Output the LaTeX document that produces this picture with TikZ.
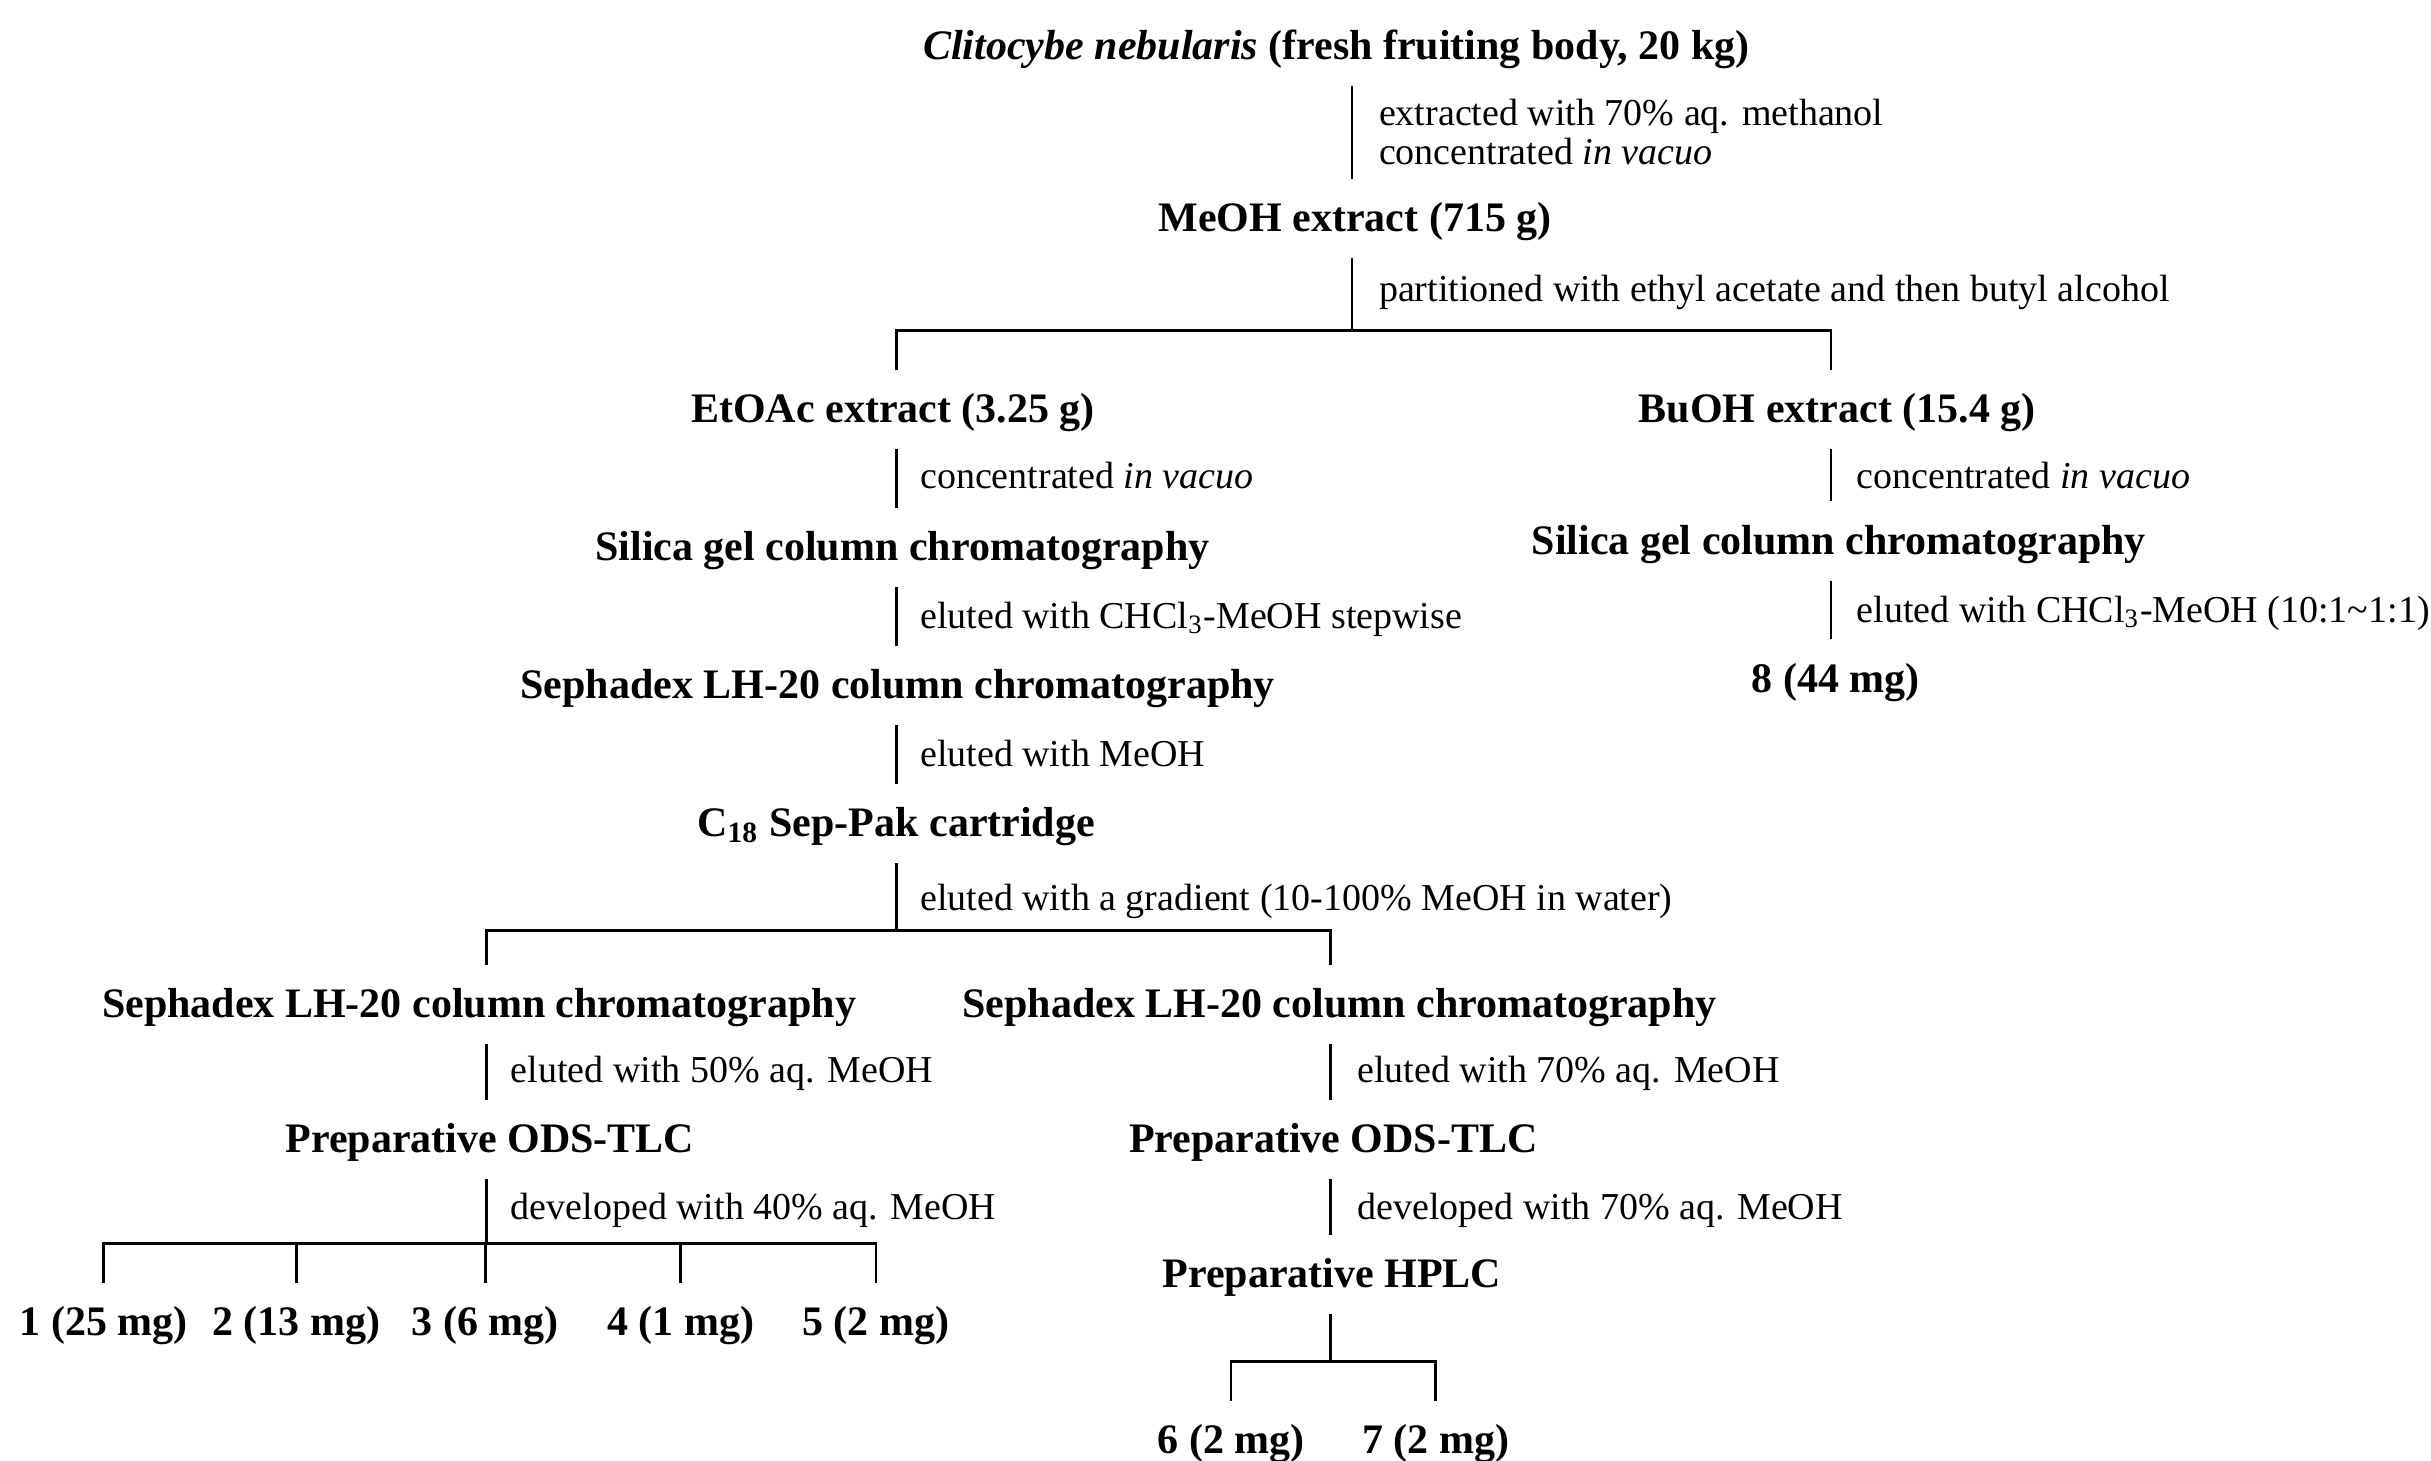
\documentclass[tikz,border=0pt]{standalone}
\usepackage{fontspec}
\setmainfont{Liberation Serif}
\begin{document}
\begin{tikzpicture}[x=0.3876pt,y=-0.3876pt,
  ln/.style={line width=0.7pt},
  bnode/.style={font=\fontsize{10.5}{12}\selectfont\bfseries, inner sep=0pt, minimum height=19.4pt, text height=0.85em, text depth=0.2em},
  note/.style={font=\fontsize{9.5}{9.7}\selectfont, inner sep=0pt, anchor=west, text height=0.85em, text depth=0.2em},
  note2/.style={font=\fontsize{9.5}{9.7}\selectfont, inner sep=0pt, anchor=west, align=left},
]
\useasboundingbox (0,0) rectangle (1568,942);

% main nodes
\node[bnode] (title) at (862,30) {\textit{Clitocybe nebularis} (fresh fruiting body, 20 kg)};
\node[bnode] (meoh) at (874,141) {MeOH extract (715 g)};
\node[bnode] (etoac) at (576,264) {EtOAc extract (3.25 g)};
\node[bnode] (buoh) at (1185,264) {BuOH extract (15.4 g)};
\node[bnode] (silL) at (582,353) {Silica gel column chromatography};
\node[bnode] (silR) at (1186,349) {Silica gel column chromatography};
\node[bnode] (sephA) at (579,442) {Sephadex LH-20 column chromatography};
\node[bnode] (c8) at (1184,438) {8 (44 mg)};
\node[bnode] (c18) at (578,531) {C\textsubscript{18} Sep-Pak cartridge};
\node[bnode] (sephL) at (309,648) {Sephadex LH-20 column chromatography};
\node[bnode] (sephR) at (864,648) {Sephadex LH-20 column chromatography};
\node[bnode] (odsL) at (316,735) {Preparative ODS-TLC};
\node[bnode] (odsR) at (860,735) {Preparative ODS-TLC};
\node[bnode] (hplc) at (859,822) {Preparative HPLC};
\node[bnode] (c1) at (67,853) {1 (25 mg)};
\node[bnode] (c2) at (191,853) {2 (13 mg)};
\node[bnode] (c3) at (313,853) {3 (6 mg)};
\node[bnode] (c4) at (439,853) {4 (1 mg)};
\node[bnode] (c5) at (565,853) {5 (2 mg)};
\node[bnode] (c6) at (794,929) {6 (2 mg)};
\node[bnode] (c7) at (926,929) {7 (2 mg)};

% notes
\node[note2] (n1) at (889,85) {extracted with 70\% aq. methanol\\concentrated \textit{in vacuo}};
\node[note] (n2) at (889,186) {partitioned with ethyl acetate and then butyl alcohol};
\node[note] (n3) at (593,307) {concentrated \textit{in vacuo}};
\node[note] (n4) at (1197,307) {concentrated \textit{in vacuo}};
\node[note] (n5) at (593,397) {eluted with CHCl\textsubscript{3}-MeOH stepwise};
\node[note] (n6) at (1197,393) {eluted with CHCl\textsubscript{3}-MeOH (10:1\textasciitilde1:1)};
\node[note] (n7) at (593,486) {eluted with MeOH};
\node[note] (n8) at (593,579) {eluted with a gradient (10-100\% MeOH in water)};
\node[note] (n9) at (329,690) {eluted with 50\% aq. MeOH};
\node[note] (n10) at (875,690) {eluted with 70\% aq. MeOH};
\node[note] (n11) at (329,778) {developed with 40\% aq. MeOH};
\node[note] (n12) at (875,778) {developed with 70\% aq. MeOH};

% column positions and junctions
\coordinate (cA) at (872,0);
\coordinate (cB) at (578,0);
\coordinate (cC) at (1181,0);
\coordinate (cD) at (314,0);
\coordinate (cE) at (858,0);
\coordinate (j1) at (872,213);
\coordinate (j2) at (578,600);
\coordinate (j3) at (314,802);
\coordinate (j4) at (858,878);

% connectors
\draw[ln] (title.south -| cA) -- (meoh.north -| cA);
\draw[ln] (meoh.south -| cA) -- (j1);
\draw[ln] (etoac.north -| cB) -- (cB |- j1) -- (cC |- j1) -- (buoh.north -| cC);
\draw[ln] (etoac.south -| cB) -- (silL.north -| cB);
\draw[ln] (silL.south -| cB) -- (sephA.north -| cB);
\draw[ln] (sephA.south -| cB) -- (c18.north -| cB);
\draw[ln] (c18.south -| cB) -- (j2);
\draw[ln] (buoh.south -| cC) -- (silR.north -| cC);
\draw[ln] (silR.south -| cC) -- (c8.north -| cC);
\draw[ln] (sephL.north -| cD) -- (cD |- j2) -- (cE |- j2) -- (sephR.north -| cE);
\draw[ln] (sephL.south -| cD) -- (odsL.north -| cD);
\draw[ln] (odsL.south -| cD) -- (j3);
\draw[ln] (c1.north) -- (c1.north |- j3) -- (c5.north |- j3) -- (c5.north);
\draw[ln] (c2.north) -- (c2.north |- j3);
\draw[ln] (c3.north) -- (c3.north |- j3);
\draw[ln] (c4.north) -- (c4.north |- j3);
\draw[ln] (sephR.south -| cE) -- (odsR.north -| cE);
\draw[ln] (odsR.south -| cE) -- (hplc.north -| cE);
\draw[ln] (hplc.south -| cE) -- (j4);
\draw[ln] (c6.north) |- (j4) -| (c7.north);
\end{tikzpicture}
\end{document}
